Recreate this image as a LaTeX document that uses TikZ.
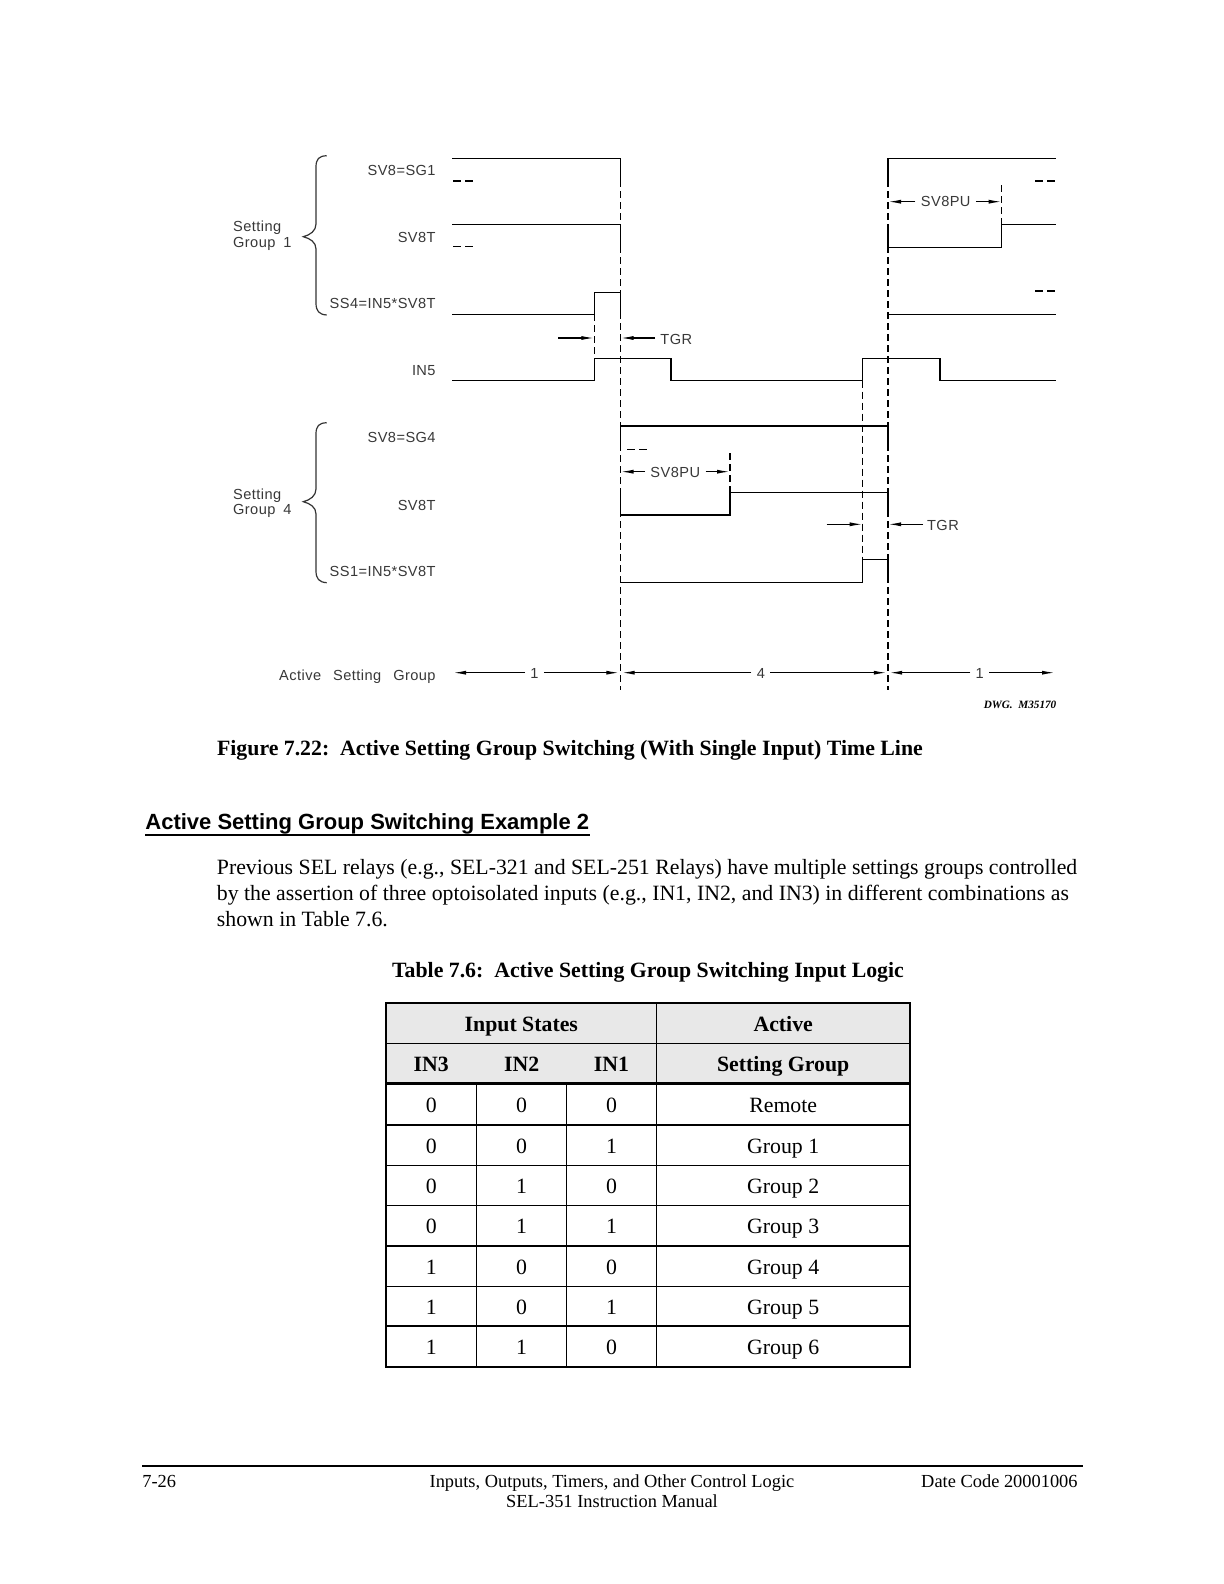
\documentclass[tikz,border=0pt]{standalone}
\usepackage{fontspec}
\setmainfont{Liberation Serif}
\newfontfamily\cadfont{Liberation Sans}[LetterSpace=3]
\newfontfamily\hdfont{Liberation Sans}
\usetikzlibrary{arrows.meta}
\begin{document}
\begin{tikzpicture}[x=0.5pt,y=-0.5pt,
  wave/.style={line width=0.7pt, line join=miter, line cap=rect},
  guide/.style={line width=0.6pt, dash pattern=on 3.5pt off 2pt},
  lowmark/.style={line width=0.6pt, dash pattern=on 4pt off 2pt},
  dim/.style={line width=0.6pt, -{Latex[length=6.5pt,width=2pt]}},
  lbl/.style={font=\cadfont\fontsize{7.3}{8}\selectfont, text=black!78, inner sep=0pt},
  dlbl/.style={lbl, inner xsep=2.5pt},
  brace/.style={line width=0.6pt, black!80},
  body/.style={font=\fontsize{10.9}{13}\selectfont, inner sep=0pt},
  bodyb/.style={font=\fontsize{10.9}{13}\selectfont\bfseries, inner sep=0pt},
  foot/.style={font=\fontsize{9.2}{10}\selectfont, inner sep=0pt},
  cell/.style={font=\fontsize{10.9}{13}\selectfont, inner sep=0pt, anchor=base},
  hcell/.style={cell, font=\fontsize{10.9}{13}\selectfont\bfseries},
  tthin/.style={line width=0.65pt},
  tthick/.style={line width=1.2pt}
]
\useasboundingbox[fill=white] (0,0) rectangle (1224,1584);

% ---------------- signal labels ----------------
\node[lbl, anchor=base east] (lsg1)  at (436,175)   {SV8=SG1};
\node[lbl, anchor=base east] (lt1)   at (436,242.7) {SV8T};
\node[lbl, anchor=base east] (lss4)  at (436,308.3) {SS4=IN5*SV8T};
\node[lbl, anchor=base east] (lin5)  at (436,375)   {IN5};
\node[lbl, anchor=base east] (lsg4)  at (436,442.7) {SV8=SG4};
\node[lbl, anchor=base east] (lt4)   at (436,510)   {SV8T};
\node[lbl, anchor=base east] (lss1)  at (436,576.7) {SS1=IN5*SV8T};
\node[lbl, anchor=base east] (lasg)  at (436,680)   {Active\hspace{6pt}Setting\hspace{6pt}Group};

\node[lbl, anchor=base west] (g1a) at (232.7,231.7) {Setting};
\node[lbl, anchor=base west] (g1b) at (232.7,247.3) {Group\hspace{4pt}1};
\node[lbl, anchor=base west] (g4a) at (232.7,499)   {Setting};
\node[lbl, anchor=base west] (g4b) at (232.7,514.3) {Group\hspace{4pt}4};

% braces
\draw[brace] (326.7,155.7) .. controls (319,156) and (316,159) .. (316,167)
  -- (316,224) .. controls (316,231) and (310,235) .. (303.3,236.7)
  .. controls (310,238.5) and (316,242) .. (316,249)
  -- (316,303) .. controls (316,311) and (319,314.5) .. (326.7,315);
\draw[brace] (326.7,422.7) .. controls (319,423) and (316,426) .. (316,434)
  -- (316,489) .. controls (316,496) and (310,500) .. (303.3,501.7)
  .. controls (310,503.5) and (316,507) .. (316,514)
  -- (316,570.7) .. controls (316,578.7) and (319,582.2) .. (326.7,582.7);

% ---------------- guides (dashed verticals) ----------------
\draw[guide] (620.5,158.3) -- (620.5,690);
\draw[guide] (888,158.3) -- (888,690);
\draw[guide] (594.3,314.3) -- (594.3,358.3);
\draw[guide] (862.7,380.7) -- (862.7,559.3);
\draw[guide] (1001.7,185) -- (1001.7,224.3);
\draw[guide] (730,453) -- (730,492.3);

% ---------------- waveforms: setting group 1 ----------------
\draw[wave] (453,158.3) -- (620.5,158.3) -- (620.5,181);
\draw[wave] (888,181) -- (888,158.3) -- (1055,158.3);
\draw[lowmark] (453,181) -- (473,181);
\draw[lowmark] (1035,181) -- (1055,181);

\draw[wave] (453,224.3) -- (620.5,224.3) -- (620.5,247);
\draw[wave] (888,224.3) -- (888,247.3) -- (1001.7,247.3) -- (1001.7,224.3) -- (1055,224.3);
\draw[lowmark] (453,246.7) -- (473,246.7);

\draw[wave] (453,314.3) -- (594.3,314.3) -- (594.3,292.3) -- (620.5,292.3) -- (620.5,314.3);
\draw[wave] (888,314.3) -- (1055,314.3);
\draw[lowmark] (1035,291) -- (1055,291);

\draw[wave] (453,380.7) -- (594.3,380.7) -- (594.3,358.3) -- (671,358.3) -- (671,380.7)
  -- (862.7,380.7) -- (862.7,358.3) -- (940,358.3) -- (940,380.7) -- (1055,380.7);

% ---------------- waveforms: setting group 4 ----------------
\draw[wave] (620.5,449) -- (620.5,426) -- (888,426) -- (888,449);
\draw[lowmark] (627,449.3) -- (647,449.3);
\draw[wave] (620.5,492.3) -- (620.5,515) -- (730,515) -- (730,492.3) -- (888,492.3) -- (888,515);
\draw[wave] (620.5,582.3) -- (862.7,582.3) -- (862.7,559.3) -- (888,559.3) -- (888,582.3);

% ---------------- dimension arrows ----------------
\coordinate (tA) at (594.3,338);
\coordinate (tB) at (620.5,338);
\coordinate (tA0) at (558,338);
\node[lbl, anchor=base west] (tgr1) at (660,344) {TGR};
\draw[dim] (tA0) -- (tA);
\draw[dim] ([xshift=-2.5pt]tgr1.west |- tB) -- (tB);

\coordinate (pA) at (888,201.7);
\coordinate (pB) at (1001.7,201.7);
\node[dlbl, anchor=base] (pu1) at (945.7,206.7) {SV8PU};
\draw[dim] (pu1.west |- pA) -- (pA);
\draw[dim] (pu1.east |- pB) -- (pB);

\coordinate (qA) at (620.5,471.7);
\coordinate (qB) at (730,471.7);
\node[dlbl, anchor=base] (pu4) at (675.3,477.3) {SV8PU};
\draw[dim] (pu4.west |- qA) -- (qA);
\draw[dim] (pu4.east |- qB) -- (qB);

\coordinate (uA0) at (826.7,524.3);
\coordinate (uA) at (862.7,524.3);
\coordinate (uB) at (888,524.3);
\node[lbl, anchor=base west] (tgr4) at (926.7,530) {TGR};
\draw[dim] (uA0) -- (uA);
\draw[dim] ([xshift=-1.8pt]tgr4.west |- uB) -- (uB);

\coordinate (a0) at (453,672.7);
\coordinate (a1) at (620.5,672.7);
\coordinate (a2) at (888,672.7);
\coordinate (a3) at (1055,672.7);
\node[dlbl, anchor=base] (s1) at (534.5,678) {1};
\node[dlbl, anchor=base] (s4) at (760.8,678) {4};
\node[dlbl, anchor=base] (s1b) at (979.7,678) {1};
\draw[dim] (s1.west |- a0) -- (a0);
\draw[dim] (s1.east |- a1) -- ([xshift=-0.6pt]a1);
\draw[dim] (s4.west |- a1) -- ([xshift=0.6pt]a1);
\draw[dim] (s4.east |- a2) -- ([xshift=-0.6pt]a2);
\draw[dim] (s1b.west |- a2) -- ([xshift=0.6pt]a2);
\draw[dim] (s1b.east |- a3) -- (a3);

\node[anchor=base east, inner sep=0pt, font=\fontsize{5.6}{6}\selectfont\bfseries\itshape] (dwg) at (1056.7,708.3) {DWG.\ \ M35170};

% ---------------- caption and text ----------------
\node[bodyb, anchor=base west] (cap) at (216.7,755) {Figure 7.22:\ \ Active Setting Group Switching (With Single Input) Time Line};

\node[anchor=base west, inner sep=0pt, font=\hdfont\fontsize{11}{13}\selectfont\bfseries] (hd) at (145,829) {Active Setting Group Switching Example 2};
\draw[line width=1pt] ([yshift=-3pt]hd.base west) -- ([yshift=-3pt]hd.base east);

\node[body, anchor=base west] (p1) at (216.5,874) {Previous SEL relays (e.g., SEL-321 and SEL-251 Relays) have multiple settings groups controlled};
\node[body, anchor=base west] (p2) at (216.5,900) {by the assertion of three optoisolated inputs (e.g., IN1, IN2, and IN3) in different combinations as};
\node[body, anchor=base west] (p3) at (216.5,926) {shown in Table 7.6.};

\node[bodyb, anchor=base] (tt) at (648,977) {Table 7.6:\ \ Active Setting Group Switching Input Logic};

% ---------------- table ----------------
\fill[black!9] (386,1003) rectangle (910,1083.6);
\draw[tthin] (386,1043.3) -- (910,1043.3);
\draw[tthin] (656.5,1003) -- (656.5,1367);
\draw[tthin] (476.7,1083.6) -- (476.7,1367);
\draw[tthin] (566.5,1083.6) -- (566.5,1367);
\foreach \yy in {1125,1165.4,1205.8,1246.1,1286.6,1326}
  \draw[tthin] (386,\yy) -- (910,\yy);
\draw[tthick] (386,1083.6) -- (910,1083.6);
\draw[tthick] (386,1003) rectangle (910,1367);

\node[hcell] (hin) at (521.3,1031) {Input States};
\node[hcell] (hact) at (783.2,1031) {Active};
\node[hcell] (h3) at (431.3,1071.5) {IN3};
\node[hcell] (h2) at (521.6,1071.5) {IN2};
\node[hcell] (h1) at (611.5,1071.5) {IN1};
\node[hcell] (hsg) at (783.2,1071.5) {Setting Group};

\foreach \yc/\va/\vb/\vc/\vg [count=\i] in {
  1104.3/0/0/0/Remote,
  1145.2/0/0/1/Group 1,
  1185.6/0/1/0/Group 2,
  1226/0/1/1/Group 3,
  1266.4/1/0/0/Group 4,
  1306.3/1/0/1/Group 5,
  1346.5/1/1/0/Group 6}
{
  \node[cell] (ca\i) at (431.3,\yc+7.8) {\va};
  \node[cell] (cb\i) at (521.6,\yc+7.8) {\vb};
  \node[cell] (cc\i) at (611.5,\yc+7.8) {\vc};
  \node[cell] (cg\i) at (783.2,\yc+7.8) {\vg};
}

% ---------------- footer ----------------
\draw[line width=1pt] (142,1466) -- (1083,1466);
\node[foot, anchor=base west] (fl) at (142,1487) {7-26};
\node[foot, anchor=base] (fc1) at (612,1487) {Inputs, Outputs, Timers, and Other Control Logic};
\node[foot, anchor=base] (fc2) at (612,1507) {SEL-351 Instruction Manual};
\node[foot, anchor=base east] (fr) at (1078,1487) {Date Code 20001006};
\end{tikzpicture}
\end{document}
